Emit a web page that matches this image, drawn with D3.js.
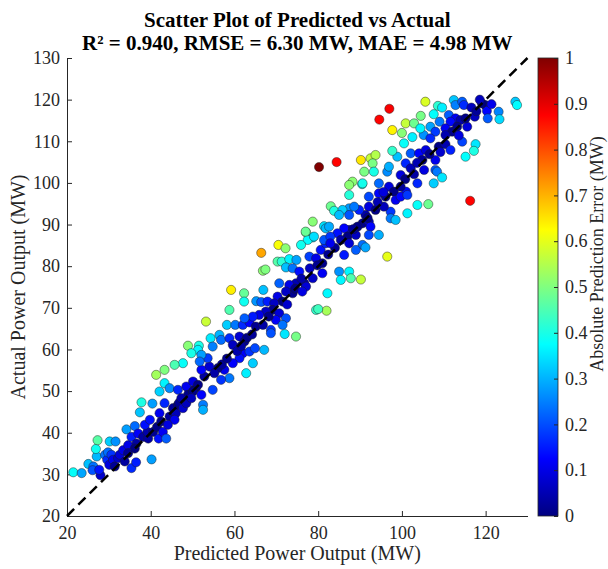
<!DOCTYPE html>
<html>
<head>
<meta charset="utf-8">
<script src="https://cdn.jsdelivr.net/npm/d3@7.9.0/dist/d3.min.js"></script>
<style>
  body { margin: 0; background: #fff; }
  svg { display: block; font-family: "Liberation Serif", "Times New Roman", serif; }
  .tick text { font-family: "Liberation Serif", "Times New Roman", serif; font-size: 18px; fill: #262626; }
  .axis path, .axis line { stroke: #262626; }
</style>
</head>
<body>
<svg id="chart" width="608" height="569"></svg>
<script>
// ---------- data: [predicted, actual] in MW ----------
const lowRange = [
  [21.5,30.5],[23.5,30.3],[25.1,32.5],[26.3,31.9],[26.1,31.0],[27.1,34.3],[26.9,36.1],[27.3,38.2],
  [28.0,29.8],[27.7,31.1],[29.1,34.7],[29.6,33.5],[30.1,32.3],[29.8,35.3],[30.6,34.7],[31.0,33.5],
  [31.4,31.9],[30.2,37.9],[31.6,37.9],[32.2,33.9],[32.6,34.7],[33.8,33.1],[33.4,35.8],[34.6,37.0],
  [34.6,35.1],[34.2,40.8],[36.2,41.6],[35.4,31.5],[36.5,32.9],[35.4,39.0],[36.6,37.4],[36.2,36.2],
  [37.4,44.9],[37.8,47.3],[37.0,39.8],[38.2,39.0],[39.4,38.6],[39.2,40.2],[40.2,33.6],[38.6,41.9],
  [39.8,43.1],[40.6,40.2],[40.4,47.0],[41.5,41.4],[41.9,38.6],[42.1,44.7],[42.9,40.2],[42.5,42.7],
  [43.7,38.6],[43.3,47.1],[44.5,43.9],[45.3,45.9],[46.0,44.7],[45.7,43.1],[44.1,41.9],[46.5,46.7],
  [46.8,47.2],[47.7,45.9],[48.5,47.1],[49.2,50.2],[50.8,50.8]
];
const midLowRange = [
  [53.2,66.7],[48.9,60.9],[51.5,60.9],[51.3,59.9],[54.3,62.7],[54.8,60.7],[56.4,63.5],[58.2,65.9],
  [60.2,65.9],[56.8,62.3],[58.8,62.7],[59.6,61.1],[61.2,63.1],[62.0,65.9],[63.6,66.5],[65.1,65.5],
  [62.4,61.9],[62.0,59.1],[61.2,57.9],[63.6,59.5],[64.9,60.3],[67.1,59.9],[64.4,56.7],[62.8,54.3],
  [58.8,53.1],[56.8,52.7],[57.6,55.1],[59.6,56.7],[56.0,55.5],[54.0,55.9],[52.8,53.5],[52.1,55.1],
  [53.6,57.9],[52.1,58.7],[51.7,57.1],[49.7,59.1],[47.7,56.7],[45.7,56.3],[43.3,55.1],[41.3,53.9],
  [43.3,51.9],[42.1,49.9],[44.5,50.7],[46.5,50.3],[48.5,51.1],[50.1,52.3],[48.9,49.1],[47.3,48.3],
  [50.1,49.9],[51.3,51.5],[49.7,48.3],[52.1,49.1],[54.8,50.3],[52.5,46.7],[52.5,45.5],
  [55.2,54.3],[57.0,56.4],[58.2,57.8],[60.6,59.6],[61.6,60.8],[63.0,62.8],[64.2,63.6],
  [59.2,74.3],[58.8,69.5]
];
const midRange = [
  [77.1,88.1],[78.7,86.9],[77.5,86.3],[75.9,85.1],[70.5,85.1],[72.2,84.3],[66.4,83.2],[66.8,78.9],
  [67.4,79.2],[70.3,81.1],[71.3,81.1],[73.1,81.7],[74.8,81.5],[72.3,79.7],[73.9,79.5],[75.5,78.7],
  [77.9,82.3],[79.5,81.9],[81.0,80.7],[80.6,83.9],[81.8,85.5],[81.4,86.3],[85.0,78.7],[87.4,78.7],
  [85.4,76.7],[87.8,77.1],[81.0,78.3],[78.7,77.1],[76.7,75.9],[77.1,75.1],[74.7,75.9],[73.1,75.5],
  [70.7,75.9],[73.9,73.5],[72.3,73.9],[70.3,72.7],[71.5,71.5],[66.9,74.3],[62.3,73.5],[62.3,71.5],
  [65.2,71.6],[66.4,71.4],[67.9,71.5],[69.5,71.1],[69.1,69.5],[70.7,68.7],[67.5,69.1],[65.9,68.3],
  [64.4,67.9],[62.4,67.5],[72.3,67.5],[69.9,67.1],[66.8,65.9],[68.7,64.7],[71.5,65.9],[82.2,73.5],
  [79.5,69.5],[82.0,69.3],[80.0,69.7],[72.0,63.7],[74.7,63.1],[68.7,63.9],
  [74.5,74.6],[76.0,77.0],[78.0,79.5],[79.8,80.2],[82.4,82.8],[84.0,84.4],[68.2,67.9],[72.6,70.8],
  [76.2,73.9],
  [78.7,90.7],[77.0,88.3],[79.0,87.1],[81.4,89.6],[81.8,89.1],[83.0,94.4],[83.8,93.3],[87.4,97.1],
  [90.5,99.7],[90.2,76.8]
];
const highRange = [
  [90.2,105.5],[92.5,105.9],[93.7,106.7],[93.0,104.7],[91.0,102.7],[93.3,102.7],[88.2,100.3],
  [87.4,99.5],[90.6,99.9],[96.5,102.7],[96.9,103.9],[98.9,106.3],[102.1,107.1],[104.1,107.1],
  [105.7,107.9],[100.9,104.7],[102.1,103.5],[104.9,105.5],[108.0,105.5],[105.3,103.1],[108.0,103.1],
  [107.6,99.9],[99.7,101.9],[103.7,99.9],[101.0,97.9],[99.7,99.1],[96.9,99.1],[94.5,99.9],[94.5,97.5],
  [96.1,96.7],[98.1,97.9],[98.5,95.9],[99.7,96.7],[101.3,97.1],[103.7,94.7],[106.3,94.9],[101.3,92.7],
  [97.3,93.1],[97.3,91.5],[98.5,91.1],[95.7,94.3],[92.1,96.7],[92.1,94.3],[93.7,93.5],[91.3,92.3],
  [89.8,93.5],[87.4,93.9],[85.8,93.5],[85.0,92.3],[87.4,92.3],[88.6,94.3],[90.6,90.3],[92.1,90.7],
  [92.5,89.5],[89.4,89.5],[87.4,88.7],[86.2,89.1],[84.6,87.9],[87.0,87.1],[85.4,86.3],[82.9,87.1],
  [82.9,85.5],[87.4,85.5],[89.0,87.5],[92.1,87.5],[94.5,87.5],[90.6,85.1],[91.3,84.5],[89.0,83.9],
  [86.2,82.7],[96.5,82.3],[82.6,89.5],
  [88.4,88.9],[91.8,91.6],[94.2,95.4],[95.6,97.8],[100.8,100.9],[102.9,102.1],[103.6,104.8],
  [97.7,112.7],[100.0,112.0],[100.9,114.3],[102.9,114.3],[100.5,109.5],[97.7,107.7],[102.5,111.0]
];
const topRange = [
  [105.6,119.5],[108.6,118.5],[109.6,118.1],[107.6,116.5],[104.5,116.1],[112.4,119.9],[112.8,118.7],
  [114.4,119.5],[114.8,118.7],[116.6,118.1],[111.2,116.3],[112.8,115.5],[114.0,115.1],[111.6,114.7],
  [109.0,114.7],[106.8,113.5],[105.2,111.5],[104.4,113.1],[110.4,113.1],[112.0,112.3],[113.2,113.5],
  [115.6,113.5],[117.4,115.9],[119.9,118.7],[120.3,117.3],[123.1,117.1],[123.3,115.3],[120.5,115.5],
  [127.1,119.5],[127.5,118.7],[119.1,119.1],[110.4,111.5],[108.0,112.3],[106.8,110.7],[108.8,108.7],
  [110.4,109.3],[111.6,107.9],[114.4,109.9],[117.6,109.3],[117.2,107.7],[115.2,106.3],[108.4,102.7],
  [109.6,101.3],[106.6,106.9],[109.2,107.4],[113.6,111.4],[115.2,115.5],[117.8,117.2],[121.4,118.9],
  [118.6,120.0]
];
const outliers = [
  [80.2,103.8],[84.4,105.0],[97.0,117.8],[94.6,115.2],[116.3,95.7]
];

const xTicks = [20, 40, 60, 80, 100, 120];
const yTicks = [20, 30, 40, 50, 60, 70, 80, 90, 100, 110, 120, 130];
const cbarTicks = [0, 0.1, 0.2, 0.3, 0.4, 0.5, 0.6, 0.7, 0.8, 0.9, 1];
const titleLines = ['Scatter Plot of Predicted vs Actual', 'R\u00b2 = 0.940, RMSE = 6.30 MW, MAE = 4.98 MW'];
const xLabel = 'Predicted Power Output (MW)';
const yLabel = 'Actual Power Output (MW)';
const cbarLabel = 'Absolute Prediction Error (MW)';

// ---------- MATLAB jet colormap ----------
function jet(t) {
  const c = v => Math.max(0, Math.min(1, v));
  const r = c(1.5 - Math.abs(4 * t - 3));
  const g = c(1.5 - Math.abs(4 * t - 2));
  const b = c(1.5 - Math.abs(4 * t - 1));
  return d3.rgb(r * 255, g * 255, b * 255).formatHex();
}

const points = [...lowRange, ...midLowRange, ...midRange, ...highRange, ...topRange, ...outliers]
  .map(([p, a]) => ({ p, a, err: Math.abs(a - p) }));
const maxErr = d3.max(points, d => d.err);

const svg = d3.select('#chart');
const plot = { left: 67, right: 527.5, top: 58, bottom: 516 };

const x = d3.scaleLinear().domain([20, 130]).range([plot.left, plot.right]);
const y = d3.scaleLinear().domain([20, 130]).range([plot.bottom, plot.top]);
const cScale = d3.scaleLinear().domain([0, 1]).range([plot.bottom, plot.top]);

const serif = '"Liberation Serif", "Times New Roman", serif';

// axes (inward ticks, no box)
svg.append('g')
  .attr('class', 'axis')
  .attr('transform', `translate(0,${plot.bottom})`)
  .call(d3.axisBottom(x).tickValues(xTicks).tickSizeInner(-5).tickSizeOuter(0).tickPadding(10))
  .attr('font-family', serif);

svg.append('g')
  .attr('class', 'axis')
  .attr('transform', `translate(${plot.left},0)`)
  .call(d3.axisLeft(y).tickValues(yTicks).tickSizeInner(-5).tickSizeOuter(0).tickPadding(7))
  .attr('font-family', serif);

// points
svg.append('g')
  .selectAll('circle')
  .data(points)
  .join('circle')
  .attr('cx', d => x(d.p))
  .attr('cy', d => y(d.a))
  .attr('r', 4.6)
  .attr('fill', d => jet(d.err / maxErr))
  .attr('stroke', 'rgba(30,30,30,0.75)')
  .attr('stroke-width', 0.6);

// identity line
svg.append('line')
  .attr('x1', x(20)).attr('y1', y(20))
  .attr('x2', x(130)).attr('y2', y(130))
  .attr('stroke', '#000')
  .attr('stroke-width', 2.5)
  .attr('stroke-dasharray', '10,6');

// title
svg.append('text')
  .attr('text-anchor', 'middle')
  .style('font-weight', 'bold')
  .style('font-size', '21px')
  .selectAll('tspan')
  .data(titleLines)
  .join('tspan')
  .attr('x', (plot.left + plot.right) / 2)
  .attr('y', (d, i) => 27 + i * 23)
  .text(d => d);

// axis labels
svg.append('text')
  .attr('x', (plot.left + plot.right) / 2)
  .attr('y', 560)
  .attr('text-anchor', 'middle')
  .style('font-size', '20px')
  .attr('fill', '#262626')
  .text(xLabel);

svg.append('text')
  .attr('transform', `translate(25,${(plot.top + plot.bottom) / 2}) rotate(-90)`)
  .attr('text-anchor', 'middle')
  .style('font-size', '20px')
  .attr('fill', '#262626')
  .text(yLabel);

// colorbar
const cb = { left: 538, width: 20 };
const grad = svg.append('defs').append('linearGradient')
  .attr('id', 'jetGrad')
  .attr('x1', 0).attr('y1', 1).attr('x2', 0).attr('y2', 0);
grad.selectAll('stop')
  .data(d3.range(0, 1.0001, 0.125))
  .join('stop')
  .attr('offset', d => d)
  .attr('stop-color', d => jet(d));

svg.append('rect')
  .attr('x', cb.left).attr('y', plot.top)
  .attr('width', cb.width).attr('height', plot.bottom - plot.top)
  .attr('fill', 'url(#jetGrad)')
  .attr('stroke', '#262626')
  .attr('stroke-width', 0.8);

const cbAxis = svg.append('g')
  .attr('class', 'axis')
  .attr('transform', `translate(${cb.left + cb.width},0)`)
  .call(d3.axisRight(cScale).tickValues(cbarTicks).tickSizeInner(-4).tickSizeOuter(0).tickPadding(7)
    .tickFormat(d3.format('~g')))
  .attr('font-family', serif);
cbAxis.select('.domain').remove();

svg.append('text')
  .attr('transform', `translate(603,254) rotate(-90)`)
  .attr('text-anchor', 'middle')
  .style('font-size', '18px')
  .attr('fill', '#262626')
  .text(cbarLabel);
</script>
</body>
</html>
